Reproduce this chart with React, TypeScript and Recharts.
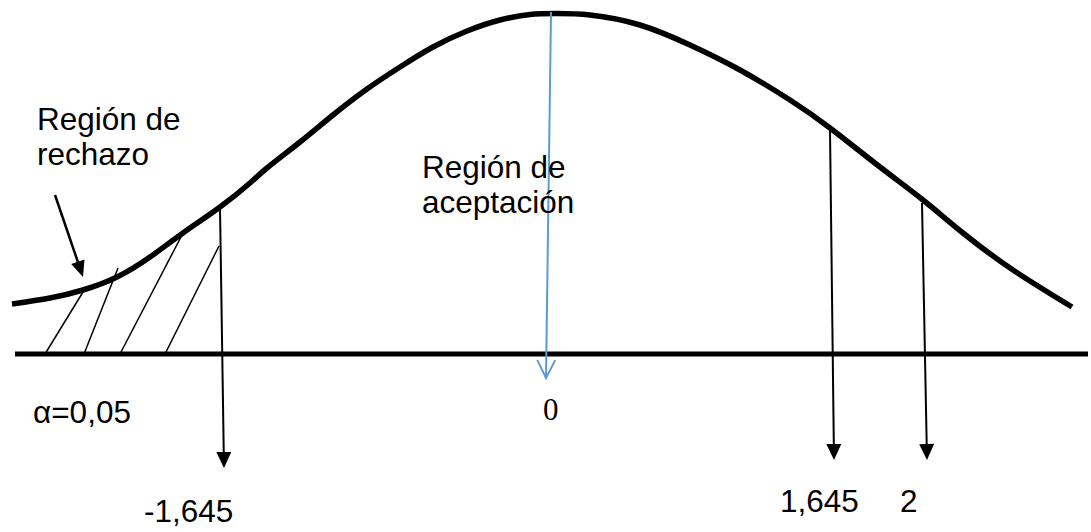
import React from 'react';
import { ComposedChart, Line, XAxis, YAxis, ReferenceLine, Scatter } from 'recharts';

// Drawing units: x = horizontal position, h = height above the baseline
const curveX = [12, 50, 83, 117, 150, 183, 220, 250, 267, 300, 333, 367, 400, 433, 467, 500, 530, 555, 590, 640, 690, 740, 790, 830, 880, 923, 963, 1013, 1072];
const curveH = [50, 56, 64, 77, 97, 121, 147, 171, 186, 212, 239, 265, 287, 307, 323, 334, 339.5, 340.5, 339, 329, 309, 284, 254, 226, 187, 154, 121, 84, 47];
const curveData = curveX.map((x, i) => ({ x, h: curveH[i] }));

const baselineSeg = [{ x: 15, y: 0 }, { x: 1088, y: 0 }];

// hatch lines in the rejection region: [x0,h0,x1,h1]
const hatchLines = [
  [45, 0, 83, 62],
  [84, 0, 118, 86],
  [120, 0, 182, 119],
  [165, 0, 219, 108],
];

// critical-value arrows (from curve down below the axis)
const criticalArrows = [
  [220, 146, 224, -114],
  [830, 224, 834, -106],
  [922, 151, 927, -106],
];
const meanArrow = [551, 342, 546, -24];
const pointerArrow = [55, 159, 83, 77];

const labelTexts = ['Región de', 'rechazo', 'Región de', 'aceptación', 'α=0,05', '0', '-1,645', '1,645', '2'];
const labelX = [37, 37, 422, 422, 33, 543, 144, 780, 900];
const labelH = [224, 189, 176, 141, -69, -66, -168, -158, -158];
const labelSerif = [false, false, false, false, false, true, false, false, false];
const labels = labelTexts.map((text, i) => ({ x: labelX[i], h: labelH[i], text, serif: labelSerif[i] }));

const makeArrow = (color: string, width: number, head: 'filled' | 'open' | 'none', headLen = 15, headHalf = 7) => (p: any) => {
  const x1 = Number(p.x1), y1 = Number(p.y1), x2 = Number(p.x2), y2 = Number(p.y2);
  const dx = x2 - x1, dy = y2 - y1;
  const len = Math.hypot(dx, dy) || 1;
  const ux = dx / len, uy = dy / len;
  const nx = -uy, ny = ux;
  const bx = x2 - ux * headLen, by = y2 - uy * headLen;
  const endX = head === 'filled' ? bx + ux * 2 : x2;
  const endY = head === 'filled' ? by + uy * 2 : y2;
  return (
    <g>
      <line x1={x1} y1={y1} x2={endX} y2={endY} stroke={color} strokeWidth={width} />
      {head === 'filled' && (
        <polygon
          points={`${x2},${y2} ${bx + nx * headHalf},${by + ny * headHalf} ${bx - nx * headHalf},${by - ny * headHalf}`}
          fill={color}
        />
      )}
      {head === 'open' && (
        <polyline
          points={`${bx + nx * headHalf},${by + ny * headHalf} ${x2},${y2} ${bx - nx * headHalf},${by - ny * headHalf}`}
          fill="none"
          stroke={color}
          strokeWidth={width}
        />
      )}
    </g>
  );
};

const blackArrow = makeArrow('#000', 2, 'filled', 16, 7.5);
const pointerShape = makeArrow('#000', 2.5, 'filled', 16, 7);
const blueArrow = makeArrow('#5B9BD5', 2, 'open', 18, 9);

const labelShape = (props: any) => {
  const { cx, cy, payload } = props;
  return (
    <text
      x={cx}
      y={cy}
      fontSize={payload.serif ? 31 : 31.5}
      fontFamily={payload.serif ? '"Liberation Serif", "Times New Roman", serif' : '"Liberation Sans", Arial, sans-serif'}
      fill="#000"
    >
      {payload.text}
    </text>
  );
};

export default function App() {
  return (
    <div style={{ position: 'absolute', left: 0, top: 0, background: '#fff' }}>
      <ComposedChart width={1091} height={532} margin={{ top: 0, right: 0, bottom: 0, left: 0 }}>
        <XAxis type="number" dataKey="x" domain={[0, 1091]} hide allowDataOverflow />
        <YAxis type="number" domain={[-178, 354]} hide allowDataOverflow />
        {hatchLines.map((s, i) => (
          <ReferenceLine
            key={'h' + i}
            segment={[{ x: s[0], y: s[1] }, { x: s[2], y: s[3] }]}
            stroke="#000"
            strokeWidth={1.5}
            ifOverflow="visible"
          />
        ))}
        <ReferenceLine segment={baselineSeg} stroke="#000" strokeWidth={5} ifOverflow="visible" />
        {criticalArrows.map((s, i) => (
          <ReferenceLine
            key={'c' + i}
            segment={[{ x: s[0], y: s[1] }, { x: s[2], y: s[3] }]}
            shape={blackArrow}
            ifOverflow="visible"
          />
        ))}
        <ReferenceLine
          segment={[{ x: pointerArrow[0], y: pointerArrow[1] }, { x: pointerArrow[2], y: pointerArrow[3] }]}
          shape={pointerShape}
          ifOverflow="visible"
        />
        <Line
          data={curveData}
          dataKey="h"
          type="natural"
          stroke="#000"
          strokeWidth={5.5}
          dot={false}
          activeDot={false}
          isAnimationActive={false}
        />
        <ReferenceLine
          segment={[{ x: meanArrow[0], y: meanArrow[1] }, { x: meanArrow[2], y: meanArrow[3] }]}
          shape={blueArrow}
          ifOverflow="visible"
        />
        <Scatter data={labels} dataKey="h" shape={labelShape} isAnimationActive={false} />
      </ComposedChart>
    </div>
  );
}
